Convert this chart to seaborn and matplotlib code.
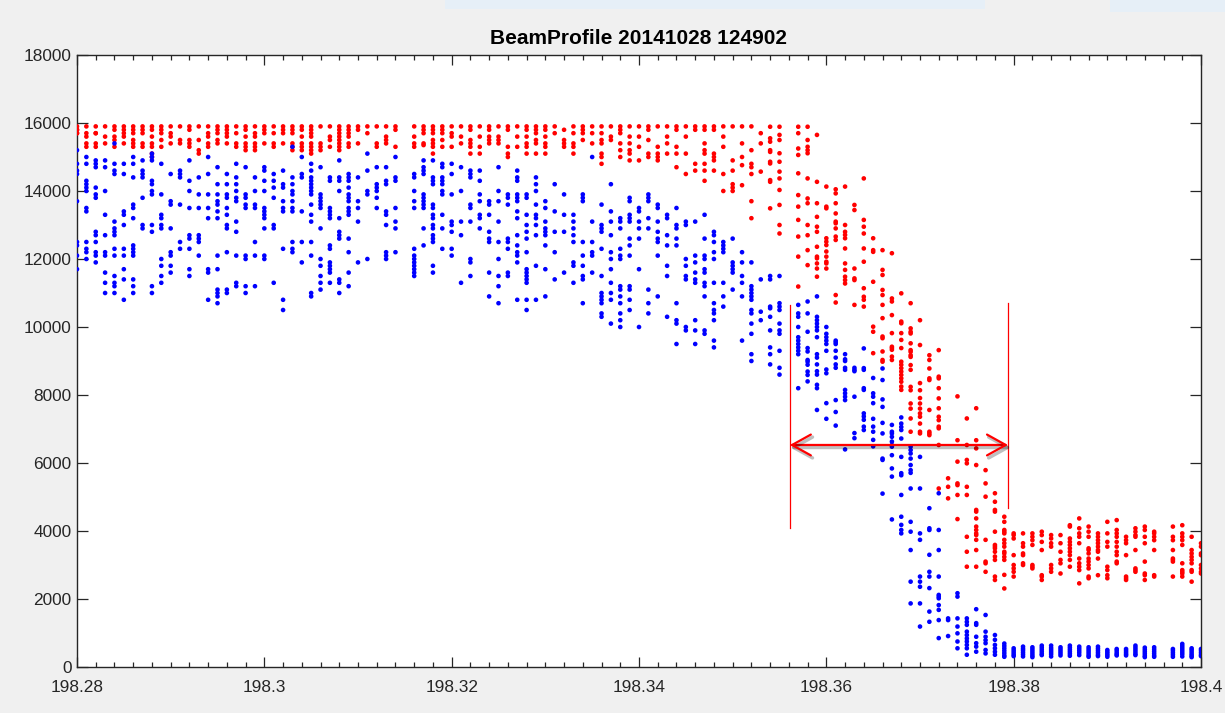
import matplotlib
matplotlib.use("Agg")
import matplotlib.pyplot as plt
import matplotlib.patheffects as pe
from matplotlib.patches import Rectangle
from matplotlib.ticker import FixedLocator, MultipleLocator
import pandas as pd
import seaborn as sns

TITLE = "BeamProfile 20141028 124902"

# scan positions (one column of samples per position)
positions = [
    198.280, 198.281, 198.282, 198.283, 198.284, 198.285, 198.286, 198.287, 198.288, 198.289,
    198.290, 198.291, 198.292, 198.293, 198.294, 198.295, 198.296, 198.297, 198.298, 198.299,
    198.300, 198.301, 198.302, 198.303, 198.304, 198.305, 198.306, 198.307, 198.308, 198.309,
    198.310, 198.311, 198.312, 198.313, 198.314,
    198.316, 198.317, 198.318, 198.319,
    198.320, 198.321, 198.322, 198.323, 198.324, 198.325, 198.326, 198.327, 198.328, 198.329,
    198.330, 198.331, 198.332, 198.333, 198.334, 198.335, 198.336, 198.337, 198.338, 198.339,
    198.340, 198.341, 198.342, 198.343, 198.344, 198.345, 198.346, 198.347, 198.348, 198.349,
    198.350, 198.351, 198.352, 198.353, 198.354, 198.355,
    198.357, 198.358, 198.359,
    198.360, 198.361, 198.362, 198.363, 198.364, 198.365, 198.366, 198.367, 198.368, 198.369,
    198.370, 198.371, 198.372, 198.373, 198.374, 198.375, 198.376, 198.377, 198.378, 198.379,
    198.380, 198.381, 198.382, 198.383, 198.384, 198.385, 198.386, 198.387, 198.388, 198.389,
    198.390, 198.391, 198.392, 198.393, 198.394, 198.395,
    198.397, 198.398, 198.399, 198.400,
]

# blue channel readings per position, in hundreds of counts
blue_hundreds = [
    [152, 148, 146, 145, 137, 125, 124, 121, 117],
    [150, 148, 143, 142, 141, 140, 135, 134, 125, 123, 122, 120],
    [149, 148, 147, 141, 139, 138, 128, 127, 125, 122, 121, 119],
    [149, 147, 140, 133, 127, 122, 121, 116, 113, 110],
    [154, 148, 146, 145, 131, 129, 128, 127, 123, 121, 115, 113, 112, 110],
    [148, 145, 134, 133, 130, 123, 121, 117, 114, 108],
    [150, 148, 144, 136, 135, 132, 124, 123, 122, 121, 114, 112, 110],
    [149, 146, 145, 144, 138, 130, 129],
    [151, 150, 149, 143, 142, 140, 139, 130, 128, 112, 110],
    [148, 139, 133, 132, 130, 129, 120, 118, 115, 113],
    [145, 137, 136, 129, 122, 121, 118, 116],
    [146, 145, 144, 136, 125, 123],
    [149, 143, 140, 135, 127, 126, 123, 117, 115],
    [144, 139, 135, 127, 126, 125, 121],
    [150, 145, 139, 135, 132, 117, 116, 108],
    [147, 142, 139, 137, 136, 134, 132, 121, 117, 111, 110, 109, 107],
    [145, 142, 139, 138, 135, 133, 130, 129, 122, 111, 110],
    [148, 144, 142, 140, 138, 137, 131, 128, 121, 113, 112],
    [147, 139, 138, 136, 135, 121, 120, 112, 110],
    [144, 140, 136, 135, 125, 121, 112],
    [147, 146, 143, 140, 135, 134, 133, 132, 129, 121, 120],
    [145, 143, 141, 138, 130, 129, 113],
    [146, 142, 141, 137, 135, 134, 123, 108, 105],
    [153, 144, 142, 140, 139, 137, 135, 134, 125, 123, 122],
    [150, 145, 144, 134, 125, 119],
    [148, 146, 144, 143, 142, 141, 140, 139, 136, 133, 131, 125, 121, 110, 109],
    [147, 139, 138, 137, 136, 135, 129, 120, 118, 115, 113, 111],
    [144, 143, 135, 134, 133, 132, 124, 123, 119, 118, 117, 116, 113],
    [149, 144, 143, 140, 132, 128, 127, 126, 114, 113, 110],
    [145, 144, 143, 141, 139, 138, 137, 135, 134, 133, 126, 122, 116, 112],
    [144, 137, 135, 131, 119],
    [151, 146, 140, 139, 120],
    [147, 142, 141, 140, 138, 135],
    [147, 143, 142, 134, 133, 130, 122, 121, 120],
    [150, 144, 143, 135, 131, 129, 122],
    [145, 144, 140, 137, 135, 123, 121, 120, 119, 118, 117, 116, 115],
    [149, 147, 146, 145, 139, 138, 137, 136, 135, 129, 124],
    [149, 144, 143, 142, 136, 135, 133, 132, 130, 129, 127, 126, 125, 118, 116],
    [148, 147, 144, 143, 142, 140, 139, 133, 129, 123],
    [148, 145, 139, 131, 130, 128, 123, 121],
    [147, 140, 131, 127, 113],
    [146, 145, 144, 136, 135, 131, 120, 119, 115],
    [146, 143, 139, 137, 133, 132, 129],
    [137, 136, 133, 128, 126, 125, 116, 109],
    [147, 140, 137, 131, 125, 120, 115, 112, 107],
    [139, 138, 136, 126, 125, 123, 116, 115],
    [146, 144, 143, 139, 138, 137, 134, 132, 127, 124, 122, 121, 119, 108],
    [139, 138, 133, 130, 128, 126, 122, 117, 116, 115, 114, 113, 108, 105],
    [144, 142, 140, 136, 133, 132, 130, 127, 118, 108],
    [137, 135, 131, 129, 128, 127, 124, 117, 109],
    [142, 134, 128, 122, 114],
    [139, 133, 128, 116],
    [133, 131, 129, 127, 125, 119, 118, 113],
    [139, 138, 137, 125, 121, 118, 115, 114, 107],
    [150, 131, 125, 122, 121, 116],
    [136, 130, 129, 128, 123, 115, 110, 109, 108, 107, 104, 103],
    [142, 134, 131, 127, 122, 120, 117, 113, 110, 108, 101],
    [132, 131, 129, 123, 121, 120, 112, 111, 109, 107, 104, 102, 100],
    [138, 137, 133, 132, 131, 126, 124, 121, 112, 111, 108, 105],
    [135, 134, 131, 129, 126, 117, 100],
    [139, 138, 137, 132, 129, 111, 107, 104],
    [136, 135, 131, 128, 126, 125, 121, 109],
    [133, 132, 127, 124, 118, 115, 103],
    [135, 130, 129, 126, 124, 107, 102, 101, 95],
    [131, 130, 120, 118, 115, 114, 100, 99],
    [131, 121, 119, 116, 114, 113, 102, 99, 95],
    [133, 126, 121, 120, 117, 116, 113, 112, 109, 99, 98],
    [128, 127, 125, 122, 120, 113, 107, 105, 104, 102, 96, 94],
    [125, 124, 123, 122, 113, 109, 106],
    [126, 119, 118, 117, 116, 111],
    [122, 119, 115, 113, 109, 96],
    [119, 112, 111, 110, 109, 108, 105, 104, 101, 98, 92, 90],
    [114, 104.5, 102],
    [115, 114, 106, 105.5, 103, 99, 94, 92, 89],
    [115, 107, 106, 105, 101, 99, 98, 93, 88, 86],
    [106.5, 104, 103, 100, 97, 96, 95, 94, 93, 92, 82],
    [107.5, 104, 98.6, 93.8, 92.8, 90.3, 89.8, 88.9, 86.9, 85.9, 84],
    [109, 103, 102, 101, 100, 99, 97, 92, 91, 89, 87, 86, 83, 82, 75.6],
    [100, 98, 97, 96, 95, 93, 87.5, 86.4, 77.6, 73],
    [96, 95.5, 95, 93, 91, 89, 88, 78.5, 75, 71],
    [92, 90.5, 90, 88, 87.4, 81.5, 80.5, 79.5, 78.5, 64],
    [88, 87.4, 87, 79.5, 68.8, 67.3],
    [93.7, 87.9, 87.4, 82, 81.5, 74.6, 73.7, 72.7, 70.7, 69.7],
    [85, 80.5, 79.5, 77.6, 73, 70.7, 69.2, 66.8, 64.9],
    [87.8, 84.4, 78.7, 76.5, 71.8, 68.7, 61.3, 60.9, 51],
    [71.2, 69.2, 68.7, 67.7, 66.3, 65.3, 64.8, 62.3, 58.4, 56, 43.4],
    [73.4, 71.6, 70.6, 69.7, 67.2, 61.8, 57, 56.4, 50.6, 44.2, 41.8, 40.3, 39.3],
    [64.8, 63.8, 62.8, 61.3, 59.4, 57.9, 57.1, 52.5, 42.7, 39.8, 34.4, 25.1, 18.7],
    [61.8, 52.5, 39.3, 37.4, 26.6, 25.1, 23.6, 18.7, 11.9],
    [46.7, 40.8, 40.3, 33, 28, 26.6, 23.2, 16.3, 13.3],
    [51.1, 40.3, 34.4, 26.6, 21.2, 20.7, 20.2, 18.2, 16.8, 13.8, 8.5],
    [14.3, 13.8, 9.1],
    [21.7, 20.7, 14.3, 11.9, 9.9, 7.5, 5.5],
    [14.3, 13.3, 12.4, 10.4, 9.4, 8.4, 7.5, 6.5, 5.5, 3.6],
    [17, 12.9, 12.4, 8.9, 7, 6, 4.5],
    [15.3, 10.4, 8.9, 7.9, 7, 5, 4],
    [9.4, 8, 6.5, 5.5, 4.5, 3.6],
    [6.9, 6.2, 5.5, 4.8, 4.1, 3.4, 3.0],
    [5.5, 4.9, 4.3, 3.7, 3.2],
    [6.0, 5.4, 4.9, 4.3, 3.7, 3.1],
    [5.8, 5.2, 4.6, 4.0, 3.4, 2.9],
    [6.3, 5.7, 5.1, 4.5, 3.9, 3.5],
    [6.3, 5.6, 5.0, 4.4, 3.8, 3.1],
    [5.8, 5.2, 4.6, 4.0, 3.4],
    [6.3, 5.7, 5.1, 4.5, 3.9, 3.3],
    [6.0, 5.4, 4.8, 4.2, 3.5],
    [5.8, 5.2, 4.6, 4.0, 3.4, 3.0],
    [6.0, 5.4, 4.8, 4.2, 3.6, 3.2],
    [5.0, 4.5, 4.0, 3.5, 3.0],
    [5.3, 4.8, 4.2, 3.7, 3.4],
    [5.3, 4.8, 4.3, 3.8, 3.4],
    [6.3, 5.7, 5.1, 4.5, 3.9, 3.5],
    [5.7, 5.1, 4.5, 3.9, 3.3, 2.9],
    [5.8, 5.2, 4.6, 4.0, 3.4, 3.0],
    [5.3, 4.8, 4.2, 3.6, 3.0],
    [6.8, 6.2, 5.6, 5.0, 4.4, 3.8, 3.1],
    [5.5, 5.0, 4.4, 3.8, 3.3, 2.9],
    [5.3, 4.8, 4.2, 3.6, 3.2],
]

# red channel readings per position, in hundreds of counts
red_hundreds = [
    [159, 158, 158, 157, 157],
    [159, 157, 156, 154, 153],
    [159, 157, 157, 154, 153],
    [159, 156, 154],
    [159, 158, 156, 155, 153],
    [159, 158, 157, 156, 154],
    [159, 158, 157, 155, 154, 153],
    [159, 158, 157, 154, 153],
    [159, 158, 156, 154, 153, 151, 150],
    [159, 158, 157, 155, 153],
    [159, 157, 156, 154],
    [159, 155, 154],
    [159, 158, 155, 154, 153],
    [159, 155, 152, 151],
    [159, 157, 156, 154, 153],
    [159, 158, 157, 155, 154],
    [159, 158, 157, 156, 154],
    [159, 157, 154, 153],
    [159, 158, 156, 154, 153, 152],
    [159, 157, 156, 154, 153, 152],
    [159, 158, 157, 154],
    [159, 157, 154, 153],
    [159, 158, 157, 154],
    [159, 158, 157, 154, 153, 152],
    [159, 158, 156, 154, 153, 152],
    [159, 158, 157, 156, 154, 153, 152, 151],
    [159, 154, 153, 152],
    [159, 156, 155, 153],
    [159, 158, 157, 156, 155, 154, 153, 152],
    [159, 158, 157, 156, 154, 153],
    [159, 158, 154],
    [159, 157],
    [159, 154, 153],
    [159, 156, 155, 154],
    [159, 158, 153],
    [159, 156, 154, 153],
    [159, 158, 157, 154, 153.5],
    [159, 158, 157, 155, 154, 153, 151],
    [159, 158, 157, 155, 153],
    [159, 157, 156, 153],
    [159, 156, 154],
    [159, 158, 155, 154, 153, 151],
    [159, 156, 153, 151],
    [159, 158, 156, 155, 154],
    [159, 156, 155, 154],
    [159, 158, 153, 151, 150],
    [159, 156, 153],
    [159, 158, 156, 154, 153, 151],
    [159, 158, 157, 155, 154, 151],
    [159, 158, 156, 154, 153, 151],
    [159, 157],
    [158, 155, 154, 153],
    [159, 157, 154, 153, 151],
    [159, 158, 157, 155],
    [159, 157, 154],
    [159, 157, 155, 154, 151, 150, 148],
    [159, 156, 155],
    [159, 158, 157, 154, 152, 150],
    [159, 156, 154, 152, 151, 149],
    [159, 156, 153, 149],
    [159, 158, 155, 151, 150],
    [159, 153, 151, 150, 149],
    [159, 156, 154, 151],
    [159, 158, 153, 151, 147],
    [159, 156, 151, 145],
    [159, 158, 148, 146],
    [159, 158, 154, 152, 151, 148, 146, 143],
    [159, 158, 151, 150, 149, 146],
    [159, 156, 153, 145, 140],
    [159, 149, 146, 142, 141, 140],
    [159, 154, 150, 147.6, 141.7],
    [159, 152, 148, 147, 145, 137, 132],
    [157, 154, 145.7],
    [158.9, 155.5, 154.5, 152, 151.5, 148.6, 148.1, 143.2, 142.7, 134.9],
    [158.9, 156.5, 155, 151.1, 148.6, 145.7, 143.7, 140.3, 135.9, 130, 127.5],
    [158.9, 157, 152.5, 150.6, 145.2, 138.8, 135.4, 131.5, 126.6, 120.7, 111.9],
    [158.9, 155, 153, 152, 151.1, 143.7, 137.8, 136.4, 130, 127, 122.6, 118.2],
    [156.5, 142.7, 136.4, 132.4, 129.5, 128, 123.6, 120.7, 120.2, 118.7, 117.2, 114.8],
    [141.3, 135.4, 134.9, 126.1, 125.1, 124.1, 122.2, 120.7, 119.2, 118.7, 117.2],
    [140.5, 139.3, 136.4, 133.4, 131, 130.5, 129, 126.6, 125.6, 109.4, 107.2],
    [141.3, 130, 128, 127.1, 126.1, 123.1, 118.7, 116.8, 114.8, 113.8, 112.8],
    [135.9, 134.4, 117.2, 114.3, 113.8, 106.5],
    [143.7, 131.5, 129.5, 127.5, 123.1, 119.2, 111.4, 108.9, 108, 106],
    [126.1, 122.6, 122.1, 113.3, 100.1, 98.6, 92.3],
    [122.6, 116.8, 115.3, 110.9, 109.4, 106.5, 102.6, 97.2, 96.7, 92.8, 90.3, 89.8],
    [121.7, 108.4, 107.5, 103.5, 98.2, 94.2, 93.8, 93.3, 91.3, 90.3],
    [109.9, 101.6, 101.1, 98.2, 96.2, 93.8, 89.8, 88.9, 87.9, 86.9, 85.9, 84.9, 83.9, 82.5, 81.5],
    [107, 99.6, 98.6, 98.1, 95.2, 93.2, 92.7, 91.7, 91.2, 88.8, 87.4, 82.4, 81.4, 77.5, 76, 73.1, 69.2],
    [102, 94.7, 83.5, 81.4, 79.1, 77.5, 76, 74.6, 73.6, 71.6, 69.2, 68.7],
    [91.7, 90.3, 87.8, 84.9, 84.4, 75.6, 69.2, 68.7, 68.2],
    [93.2, 85.4, 84.9, 82, 79, 76.1, 73.6, 72.6, 70.7, 70.2, 65.3, 52.5],
    [55.5, 53, 49.6],
    [79.6, 66.7, 60.4, 54, 53.5, 50.6, 43.5],
    [73.1, 65.3, 60.9, 59.9, 53, 50.6, 38.3, 33.9, 29.5],
    [76.1, 66.7, 64.3, 59.4, 46.2, 45.7, 43.7, 41.3, 40.3, 39.3, 38.8, 37.4, 34.4, 29.5],
    [57.9, 54, 50.1, 37.4, 31, 30.5, 28],
    [51.1, 48.6, 46.2, 45.7, 39.8, 35.9, 35.4, 34.9, 33.9, 32.5, 31.5, 26.6, 25.6],
    [44.2, 42.7, 40.3, 39.8, 39.3, 37.4, 36.4, 35.4, 33.9, 33.4, 32.4, 31.5, 27.1, 23.1],
    [39.3, 38.8, 37.8, 32.9, 30, 29, 28, 26.6],
    [39.3, 36.4, 35.4, 33.4, 32.9, 30.5, 30],
    [39.3, 38.3, 37.3, 35.9, 30, 29.5, 29],
    [39.8, 38.8, 36.8, 34.4, 27, 26.6, 25.6],
    [38.8, 37.8, 36.4, 35.4, 30, 29, 28],
    [38.8, 36.4, 33.9, 31.5, 30.5, 27.5],
    [41.7, 41.3, 37.8, 36.8, 35.9, 34.9, 33.9, 32.9, 31.5, 29.5],
    [43.7, 40.8, 39.3, 38.3, 36.4, 31.9, 30.5, 29.5, 28.5, 24.6],
    [41.3, 39.8, 38.3, 34.9, 34.4, 33.4, 31.9, 31, 30, 29, 26.6, 26.1],
    [39.3, 38.3, 37.3, 36.4, 35.4, 34.4, 33.9, 31.9, 27],
    [42.7, 39.3, 36.8, 35.4, 29.5, 28.5, 27, 26.1],
    [43.2, 40.3, 39.3, 38.3, 36.8, 35.4, 33.9, 32.9, 31, 30.5],
    [38.3, 37.3, 36.4, 32.9, 26.6, 26.1, 25.6],
    [40.8, 39.8, 38.8, 38.3, 34.4, 29, 28.5, 28],
    [41.3, 40.3, 38.3, 36.4, 31, 27.5, 27, 25.6],
    [39.8, 39.3, 38.3, 37.3, 34.4, 27, 26.6],
    [41.3, 38.3, 37.3, 34.4, 31.9, 31.5, 31, 26.6],
    [41.7, 39.3, 38.3, 37.3, 35.9, 30.5, 28.5, 28, 27.5, 26.6],
    [38.3, 34.4, 33.4, 32.4, 31.5, 30.5, 28.5, 28, 25.1],
    [36.4, 35.4, 33.4, 32.9, 30, 29, 28, 27.5],
]

x_tick_values = [198.28, 198.30, 198.32, 198.34, 198.36, 198.38, 198.40]
x_tick_labels = ["198.28", "198.3", "198.32", "198.34", "198.36", "198.38", "198.4"]
y_tick_values = [0, 2000, 4000, 6000, 8000, 10000, 12000, 14000, 16000, 18000]
y_tick_labels = ["0", "2000", "4000", "6000", "8000", "10000", "12000", "14000", "16000", "18000"]

# measured window marked on the drop
window_start, window_end = 198.3561, 198.3794
window_start_span = (4090, 10650)
window_end_span = (4670, 10700)
window_level = 6530

assert len(positions) == len(blue_hundreds) == len(red_hundreds)

records = []
for channel, table in (("red", red_hundreds), ("blue", blue_hundreds)):
    for pos, column in zip(positions, table):
        for v in column:
            records.append({"position": pos, "signal": v * 100.0, "channel": channel})
df = pd.DataFrame(records)

plt.rcParams["font.family"] = ["Liberation Sans", "DejaVu Sans"]
AXIS_GRAY = "#262626"

fig = plt.figure(figsize=(12.25, 7.13), dpi=100, facecolor="#f0f0f0")
fig.patches.append(Rectangle((445 / 1225, 1 - 9 / 713), 540 / 1225, 9 / 713,
                             transform=fig.transFigure, facecolor="#e6eff7",
                             edgecolor="none", zorder=0))
fig.patches.append(Rectangle((1110 / 1225, 1 - 12 / 713), 115 / 1225, 12 / 713,
                             transform=fig.transFigure, facecolor="#e6eff7",
                             edgecolor="none", zorder=0))

ax = fig.add_axes([77 / 1225, 46 / 713, 1124 / 1225, 612 / 713])
ax.set_facecolor("white")

sns.scatterplot(data=df, x="position", y="signal", hue="channel",
                palette={"red": "#ff0000", "blue": "#0000ff"},
                s=11, linewidth=0, legend=False, ax=ax, zorder=3)

ax.set_xlim(198.28, 198.40)
ax.set_ylim(0, 18000)
ax.xaxis.set_major_locator(FixedLocator(x_tick_values))
ax.set_xticklabels(x_tick_labels)
ax.xaxis.set_minor_locator(MultipleLocator(0.002))
ax.yaxis.set_major_locator(FixedLocator(y_tick_values))
ax.set_yticklabels(y_tick_labels)
ax.set_xlabel("")
ax.set_ylabel("")

ax.tick_params(axis="both", which="both", direction="in", top=True, right=True,
               color=AXIS_GRAY, labelcolor=AXIS_GRAY, labelsize=12.4, width=0.9)
ax.tick_params(axis="x", which="major", length=7.5, pad=9)
ax.tick_params(axis="x", which="minor", length=3.5)
ax.tick_params(axis="y", which="major", length=8, pad=4)
for spine in ax.spines.values():
    spine.set_color(AXIS_GRAY)
    spine.set_linewidth(1.0)

ax.set_title(TITLE, fontsize=15, fontweight="bold", color="black", pad=8)

# window markers
ax.plot([window_start, window_start], window_start_span, color="#ff0000", lw=0.9, zorder=4)
ax.plot([window_end, window_end], window_end_span, color="#ff0000", lw=0.9, zorder=4)
ax.annotate("", xy=(window_start, window_level), xytext=(window_end, window_level),
            arrowprops=dict(arrowstyle="<->,head_length=1.35,head_width=0.75",
                            color="#ff0000", lw=1.6, shrinkA=0, shrinkB=0,
                            mutation_scale=10,
                            path_effects=[pe.SimpleLineShadow(offset=(1.2, -1.8),
                                                              shadow_color="black",
                                                              alpha=0.25, linewidth=2.5),
                                          pe.Normal()]),
            zorder=5)

fig.savefig("out.png", dpi=100, facecolor=fig.get_facecolor())
